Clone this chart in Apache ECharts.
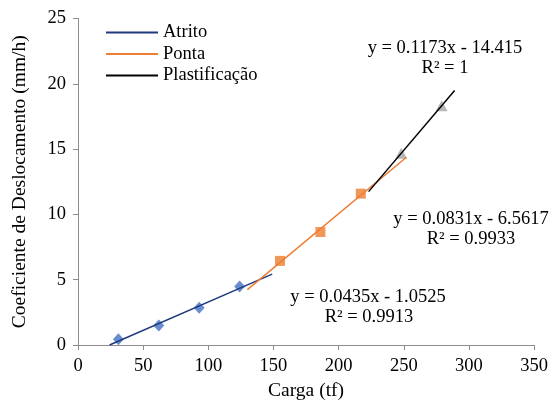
<!DOCTYPE html>
<html>
<head>
<meta charset="utf-8">
<script src="https://cdn.jsdelivr.net/npm/echarts@6/dist/echarts.min.js"></script>
<style>
  html, body { margin: 0; padding: 0; background: #fff; }
  #chart { width: 551px; height: 410px; }
</style>
</head>
<body>
<div id="chart"></div>
<script>
// Load (tf) and displacement coefficient (mm/h) for each loading stage
const atritoLoad = [31, 62, 93, 124];
const atritoCoef = [0.44, 1.50, 2.85, 4.48];
const pontaLoad = [155, 186, 217];
const pontaCoef = [6.44, 8.65, 11.59];
const plastLoad = [248, 279];
const plastCoef = [14.68, 18.31];

// Linear trendlines: [slope, intercept] and the load range each one spans
const atritoFit = [0.0435, -1.0525];
const pontaFit = [0.0831, -6.5617];
const plastFit = [0.1173, -14.415];
const atritoRange = [24.2, 149];
const pontaRange = [130, 252];
const plastRange = [223, 289];

const xTicks = [0, 50, 100, 150, 200, 250, 300, 350];
const yTicks = [0, 5, 10, 15, 20, 25];

const FONT = '"Liberation Serif", "DejaVu Serif", serif';
const FS = 18.5;

function pairs(xs, ys) { return xs.map((x, i) => [x, ys[i]]); }
function fitLine(fit, range) {
  return range.map(x => [x, fit[0] * x + fit[1]]);
}
function eqText(x, y, text) {
  return {
    type: 'text', x: x, y: y,
    style: { text: text, font: FS + 'px ' + FONT, fill: '#000', align: 'center', verticalAlign: 'middle' }
  };
}

const chart = echarts.init(document.getElementById('chart'));
chart.setOption({
  animation: false,
  backgroundColor: '#fff',
  textStyle: { fontFamily: FONT },
  grid: { left: 78, right: 15, top: 18.5, bottom: 65 },
  legend: {
    orient: 'vertical',
    left: 106,
    top: 23,
    padding: 0,
    icon: 'rect',
    itemWidth: 52,
    itemHeight: 2,
    itemGap: 2.5,
    textStyle: { fontFamily: FONT, fontSize: FS, color: '#000', padding: [0, 0, 0, 0] },
    data: ['Atrito', 'Ponta', 'Plastificação']
  },
  xAxis: {
    type: 'value',
    min: xTicks[0],
    max: xTicks[xTicks.length - 1],
    interval: 50,
    name: 'Carga (tf)',
    nameLocation: 'middle',
    nameGap: 28,
    nameTextStyle: { fontFamily: FONT, fontSize: 19.5, color: '#000' },
    axisLine: { lineStyle: { color: '#8c8c8c', width: 1 } },
    axisTick: { show: true, length: 5, lineStyle: { color: '#8c8c8c' } },
    axisLabel: { fontFamily: FONT, fontSize: FS, color: '#000', margin: 12 },
    splitLine: { show: false }
  },
  yAxis: {
    type: 'value',
    min: yTicks[0],
    max: yTicks[yTicks.length - 1],
    interval: 5,
    name: 'Coeficiente de Deslocamento (mm/h)',
    nameLocation: 'middle',
    nameGap: 48,
    nameTextStyle: { fontFamily: FONT, fontSize: 19.5, color: '#000' },
    axisLine: { show: true, lineStyle: { color: '#8c8c8c', width: 1 } },
    axisTick: { show: true, length: 5, lineStyle: { color: '#8c8c8c' } },
    axisLabel: { fontFamily: FONT, fontSize: FS, color: '#000', margin: 12 },
    splitLine: { show: false }
  },
  series: [
    {
      name: 'Atrito', type: 'line', data: fitLine(atritoFit, atritoRange),
      showSymbol: false, color: '#1f3b7e', lineStyle: { width: 1.5, color: '#1f3b7e' }, z: 3
    },
    {
      name: 'Ponta', type: 'line', data: fitLine(pontaFit, pontaRange),
      showSymbol: false, color: '#ed7d31', lineStyle: { width: 1.5, color: '#ed7d31' }, z: 3
    },
    {
      name: 'Plastificação', type: 'line', data: fitLine(plastFit, plastRange),
      showSymbol: false, color: '#000', lineStyle: { width: 1.5, color: '#000' }, z: 4
    },
    {
      name: 'Atrito pontos', type: 'scatter', data: pairs(atritoLoad, atritoCoef),
      symbol: 'diamond', symbolSize: [11, 12], itemStyle: { color: '#4472c4' }, z: 2
    },
    {
      name: 'Ponta pontos', type: 'scatter', data: pairs(pontaLoad, pontaCoef),
      symbol: 'rect', symbolSize: 10, itemStyle: { color: '#ed7d31' }, z: 2
    },
    {
      name: 'Plastificação pontos', type: 'scatter', data: pairs(plastLoad, plastCoef),
      symbol: 'triangle', symbolSize: [12, 11], itemStyle: { color: '#a5a5a5' }, z: 2
    }
  ],
  graphic: [
    eqText(445, 48, 'y = 0.1173x - 14.415'),
    eqText(445, 68, 'R² = 1'),
    eqText(471, 219, 'y = 0.0831x - 6.5617'),
    eqText(471, 239, 'R² = 0.9933'),
    eqText(368, 297, 'y = 0.0435x - 1.0525'),
    eqText(369, 317, 'R² = 0.9913')
  ]
});
</script>
</body>
</html>
